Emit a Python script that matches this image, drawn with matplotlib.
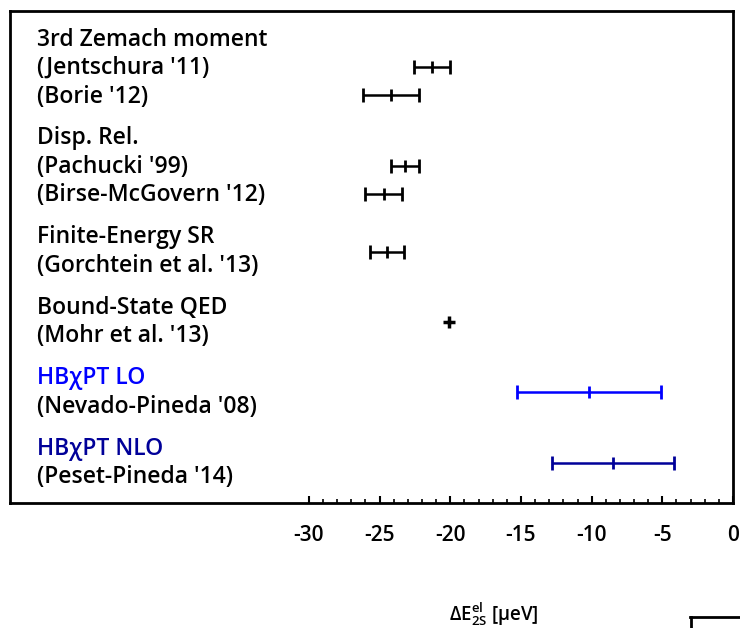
import numpy as np
import matplotlib
matplotlib.use('Agg')
import matplotlib.pyplot as plt
from matplotlib.lines import Line2D

plt.rcParams['font.family'] = ['Open Sans', 'DejaVu Sans']
plt.rcParams['mathtext.fontset'] = 'custom'
plt.rcParams['mathtext.rm'] = 'Open Sans:semibold'

# groups: header text, header colour, entries
group_headers = ['3rd Zemach moment', 'Disp. Rel.', 'Finite-Energy SR',
                 'Bound-State QED', 'HB\u03c7PT LO', 'HB\u03c7PT NLO']
header_colors = ['black', 'black', 'black', 'black', '#0000ff', '#000099']
group_entries = [
    ["(Jentschura '11)", "(Borie '12)"],
    ["(Pachucki '99)", "(Birse-McGovern '12)"],
    ["(Gorchtein et al. '13)"],
    ["(Mohr et al. '13)"],
    ["(Nevado-Pineda '08)"],
    ["(Peset-Pineda '14)"],
]
# values in micro eV, one list per group (error 0 -> plain cross)
group_values = [[-21.3, -24.2], [-23.2, -24.7], [-24.5], [-20.1], [-10.2], [-8.5]]
group_errors = [[1.3, 2.0], [1.0, 1.3], [1.2], [0.0], [5.1], [4.3]]
bar_colors = ['black', 'black', 'black', 'black', '#0000ff', '#000099']

xticks = [-30, -25, -20, -15, -10, -5, 0]

fig = plt.figure(figsize=(7.4, 6.28), dpi=100)
ax = fig.add_axes([10/740, 125/628, 723/740, 492/628])

pitch = 1.0
gap = 0.47
line = 1.0
tx = ax.get_yaxis_transform()
for g, header in enumerate(group_headers):
    y_head = line
    ax.text(0.037, y_head, header, transform=tx, ha='left', va='center',
            fontsize=16.5, fontweight='semibold', color=header_colors[g])
    ys = []
    for e, entry in enumerate(group_entries[g]):
        y = y_head + (e + 1) * pitch
        ax.text(0.037, y, entry, transform=tx, ha='left', va='center',
                fontsize=16.5, fontweight='semibold', color='black')
        ys.append(y)
    if len(ys) == 1:
        bar_y = [(y_head + ys[0]) / 2]
    else:
        bar_y = [y - 0.04 for y in ys]
    for k, yb in enumerate(bar_y):
        if group_errors[g][k] > 0:
            ax.errorbar(group_values[g][k], yb, xerr=group_errors[g][k],
                        fmt='|', color=bar_colors[g], ms=9, mew=2,
                        elinewidth=1.8, capsize=5, capthick=1.8)
        else:
            ax.plot(group_values[g][k], yb, marker='+', ms=8, mew=2.5,
                    color=bar_colors[g], ls='none')
    line = ys[-1] + pitch + gap

ax.set_ylim(17.26, 0)
ax.set_xlim(-51.15, 0)
ax.set_yticks([])
ax.set_xticks(xticks)
ax.set_xticklabels([str(t) for t in xticks], fontsize=15, fontweight='semibold')
ax.set_xticks(np.arange(-30, 1, 1), minor=True)
ax.tick_params(axis='x', which='major', direction='in', length=5, width=1.5, pad=16)
ax.tick_params(axis='x', which='minor', direction='in', length=3, width=1.2)
for s in ax.spines.values():
    s.set_linewidth(2)

fig.text(494/740, 1 - 620/628,
         '$\\Delta\\mathrm{E}^{\\mathrm{el}}_{\\mathrm{2S}}$ [\u03bceV]',
         ha='center', va='baseline', fontsize=13.5, fontweight='semibold')

fig.add_artist(Line2D([690/740, 740/740], [1 - 617/628, 1 - 617/628],
                      color='black', lw=2, transform=fig.transFigure))
fig.add_artist(Line2D([691/740, 691/740], [1 - 617/628, 0],
                      color='black', lw=2, transform=fig.transFigure))

fig.savefig('out.png', dpi=100)
